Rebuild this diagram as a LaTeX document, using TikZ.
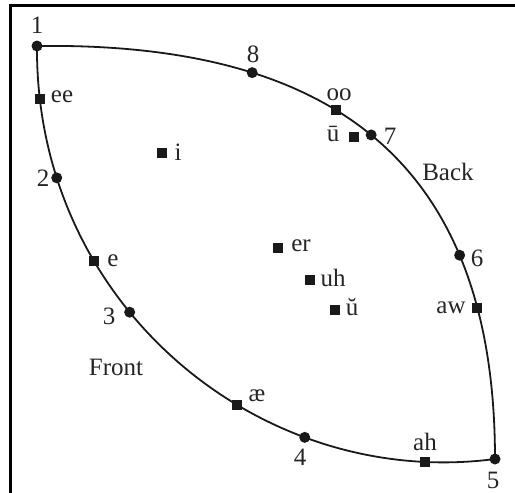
\documentclass[tikz,border=0pt]{standalone}
\usepackage{fontspec}
\setmainfont{Liberation Serif}
\begin{document}
\begin{tikzpicture}[x=1pt,y=-1pt,
  dot/.style={circle,fill=black!90,inner sep=0pt,minimum size=11pt},
  sq/.style={rectangle,fill=black!90,inner sep=0pt,minimum size=10pt},
  lbl/.style={inner sep=0pt,font=\fontsize{25}{27}\selectfont,text=black!85},
  arcline/.style={line width=1.8pt,draw=black!90},
  frameline/.style={line width=3pt}]
\useasboundingbox (0,0) rectangle (515,493);
% frame
\coordinate (fbl) at (10,493);
\coordinate (ftl) at (10,5);
\coordinate (ftr) at (515,5);
\draw[frameline] (fbl) -- (ftl) -- (ftr);
% corner points
\coordinate (a1) at (37,46);
\coordinate (a5) at (495,459);
\coordinate (k1) at (330,42);
\coordinate (k2) at (495,160);
\coordinate (k3) at (260,490);
\coordinate (k4) at (35,305);
% upper (back) arc
\draw[arcline] (a1) .. controls (k1) and (k2) .. (a5)
  node[dot,pos=0.28] (p8) {}
  node[sq,pos=0.42] (voo) {}
  node[dot,pos=0.49] (p7) {}
  node[dot,pos=0.73] (p6) {}
  node[sq,pos=0.81] (vaw) {};
% lower (front) arc
\draw[arcline] (a5) .. controls (k3) and (k4) .. (a1)
  node[sq,pos=0.10] (vah) {}
  node[dot,pos=0.28] (p4) {}
  node[sq,pos=0.39] (vae) {}
  node[dot,pos=0.60] (p3) {}
  node[sq,pos=0.69] (ve) {}
  node[dot,pos=0.82] (p2) {}
  node[sq,pos=0.93] (vee) {};
\node[dot] (p1) at (a1) {};
\node[dot] (p5) at (a5) {};
% interior vowels
\node[sq] (vi)  at (162,153) {};
\node[sq] (ver) at (278,248) {};
\node[sq] (vuh) at (310,280) {};
\node[sq] (vub) at (335,310) {};
\node[sq] (vum) at (354,137) {};
% labels
\node[lbl] (l1) at (37,25) {1};
\node[lbl] (l8) at (253,54) {8};
\node[lbl] (loo) at (339,95) {oo};
\node[lbl] (lum) at (333,134) {ū};
\node[lbl] (l7) at (390,136) {7};
\node[lbl] (lback) at (448,172) {Back};
\node[lbl] (l6) at (477,258) {6};
\node[lbl] (law) at (451,308) {aw};
\node[lbl] (l5) at (493,480) {5};
\node[lbl] (lah) at (425,442) {ah};
\node[lbl] (l4) at (300,457) {4};
\node[lbl] (lae) at (257,396) {æ};
\node[lbl] (lfront) at (116,367) {Front};
\node[lbl] (l3) at (109,316) {3};
\node[lbl] (le) at (113,261) {e};
\node[lbl] (l2) at (43,178) {2};
\node[lbl] (lee) at (62,97) {ee};
\node[lbl] (li) at (178,152) {i};
\node[lbl] (ler) at (301,246) {er};
\node[lbl] (luh) at (333,278) {uh};
\node[lbl] (lub) at (352,307) {ŭ};
\end{tikzpicture}
\end{document}
